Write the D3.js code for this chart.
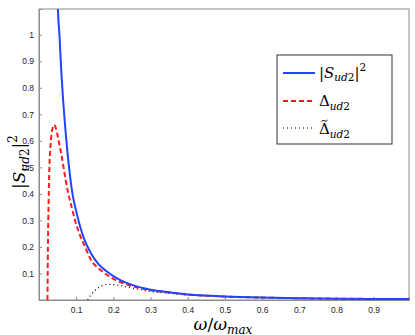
<!DOCTYPE html>
<html>
<head>
<meta charset="utf-8">
<script src="https://d3js.org/d3.v7.min.js"></script>
<style>
  body { margin: 0; background: #fff; }
  svg { display: block; }
  .serif { font-family: "DejaVu Serif", "Liberation Serif", serif; }
</style>
</head>
<body>
<div id="chart"></div>
<script>
// |S_ud2|^2 vs omega/omega_max

const sX = [0.048, 0.0508, 0.055, 0.06, 0.065, 0.07, 0.08, 0.09, 0.10, 0.11, 0.12, 0.14, 0.16, 0.18, 0.20, 0.22, 0.25, 0.30, 0.35, 0.40, 0.45, 0.50, 0.60, 0.70, 0.80, 0.90, 0.995];
const sY = [1.30, 1.10, 1.00, 0.86, 0.75, 0.66, 0.51, 0.40, 0.335, 0.28, 0.235, 0.175, 0.135, 0.11, 0.09, 0.074, 0.057, 0.039, 0.029, 0.021, 0.0165, 0.0133, 0.0092, 0.0067, 0.0051, 0.0041, 0.0034];

const dX = [0.0228, 0.024, 0.026, 0.028, 0.032, 0.036, 0.041, 0.046, 0.05, 0.055, 0.06, 0.066, 0.072, 0.079, 0.088, 0.097, 0.11, 0.124, 0.14, 0.16, 0.18, 0.20, 0.22, 0.25, 0.30, 0.35, 0.40, 0.50, 0.60, 0.70, 0.80, 0.90, 0.995];
const dY = [0, 0.20, 0.38, 0.50, 0.60, 0.645, 0.66, 0.645, 0.62, 0.585, 0.55, 0.50, 0.45, 0.40, 0.35, 0.30, 0.245, 0.20, 0.15, 0.12, 0.097, 0.08, 0.067, 0.053, 0.037, 0.028, 0.0205, 0.013, 0.009, 0.0066, 0.005, 0.004, 0.0033];

const tX = [0.131, 0.14, 0.15, 0.16, 0.17, 0.18, 0.19, 0.20, 0.22, 0.25, 0.28, 0.30, 0.35, 0.40, 0.50, 0.60, 0.70, 0.80, 0.90, 0.995];
const tY = [0, 0.02, 0.035, 0.046, 0.054, 0.058, 0.059, 0.058, 0.054, 0.045, 0.037, 0.032, 0.025, 0.019, 0.0125, 0.0088, 0.0064, 0.0049, 0.0039, 0.0032];

const xTicks = [0.1, 0.2, 0.3, 0.4, 0.5, 0.6, 0.7, 0.8, 0.9];
const yTicks = [0.1, 0.2, 0.3, 0.4, 0.5, 0.6, 0.7, 0.8, 0.9, 1];

const W = 415, H = 335;
const m = { left: 39, right: 6, top: 9, bottom: 35 };

const svg = d3.select('#chart').append('svg')
  .attr('width', W)
  .attr('height', H);

const x = d3.scaleLinear().domain([0, 0.995]).range([m.left, W - m.right]);
const y = d3.scaleLinear().domain([0, 1.097]).range([H - m.bottom, m.top]);

svg.append('defs').append('clipPath').attr('id', 'clip')
  .append('rect')
  .attr('x', m.left).attr('y', m.top)
  .attr('width', W - m.left - m.right)
  .attr('height', H - m.top - m.bottom);

// frame
svg.append('rect')
  .attr('x', m.left).attr('y', m.top)
  .attr('width', W - m.left - m.right)
  .attr('height', H - m.top - m.bottom)
  .attr('fill', '#fff')
  .attr('stroke', '#8c8c8c')
  .attr('stroke-width', 1);

// axes, ticks pointing inward
const xAxis = svg.append('g')
  .attr('transform', `translate(0,${H - m.bottom})`)
  .call(d3.axisBottom(x).tickValues(xTicks).tickSize(-3).tickPadding(7).tickFormat(d3.format('.1f')));
const yAxis = svg.append('g')
  .attr('transform', `translate(${m.left},0)`)
  .call(d3.axisLeft(y).tickValues(yTicks).tickSize(-3).tickPadding(5).tickFormat(d => d === 1 ? '1' : d3.format('.1f')(d)));

[xAxis, yAxis].forEach(a => {
  a.select('.domain').attr('stroke', '#8c8c8c');
  a.selectAll('.tick line').attr('stroke', '#8c8c8c');
  a.selectAll('.tick text')
    .attr('fill', '#262626')
    .attr('font-family', 'Liberation Sans, Arial, sans-serif')
    .attr('font-size', 8.5);
});

const line = d3.line()
  .x(d => x(d[0]))
  .y(d => y(d[1]))
  .curve(d3.curveMonotoneX);

const plot = svg.append('g').attr('clip-path', 'url(#clip)');

const series = [
  { xs: tX, ys: tY, color: '#000', width: 1.2, dash: '1,3' },
  { xs: dX, ys: dY, color: '#ff1a1a', width: 2, dash: '5,3' },
  { xs: sX, ys: sY, color: '#2244ff', width: 2, dash: null },
];

series.forEach(s => {
  plot.append('path')
    .datum(s.xs.map((v, i) => [v, s.ys[i]]))
    .attr('fill', 'none')
    .attr('stroke', s.color)
    .attr('stroke-width', s.width)
    .attr('stroke-dasharray', s.dash)
    .attr('d', line);
});

// legend
const lg = svg.append('g');
lg.append('rect')
  .attr('x', 277).attr('y', 55)
  .attr('width', 115).attr('height', 89)
  .attr('fill', '#fff')
  .attr('stroke', '#333')
  .attr('stroke-width', 1);

const legRows = [
  { yy: 73, s: series[2] },
  { yy: 101, s: series[1] },
  { yy: 128, s: series[0] },
];
legRows.forEach(r => {
  lg.append('line')
    .attr('x1', 283).attr('x2', 315)
    .attr('y1', r.yy).attr('y2', r.yy)
    .attr('stroke', r.s.color)
    .attr('stroke-width', r.s.width)
    .attr('stroke-dasharray', r.s.dash);
});

// |S_ud2|^2 as tspans
function sLabel(t, big, small) {
  t.append('tspan').text('|');
  t.append('tspan').attr('font-style', 'italic').text('S');
  t.append('tspan').attr('font-style', 'italic').attr('font-size', small).attr('dy', big * 0.22).text('ud');
  t.append('tspan').attr('font-size', small).text('2');
  t.append('tspan').attr('dy', -big * 0.22).text('|');
  t.append('tspan').attr('font-size', small).attr('dy', -big * 0.45).text('2');
}

const t1 = lg.append('text').attr('class', 'serif').attr('x', 319).attr('y', 78).attr('font-size', 15).attr('fill', '#000');
sLabel(t1, 15, 10.5);

const t2 = lg.append('text').attr('class', 'serif').attr('x', 319).attr('y', 106).attr('font-size', 15).attr('fill', '#000');
t2.append('tspan').text('Δ');
t2.append('tspan').attr('font-style', 'italic').attr('font-size', 10.5).attr('dy', 3.5).text('ud');
t2.append('tspan').attr('font-size', 10.5).text('2');

const t3 = lg.append('text').attr('class', 'serif').attr('x', 319).attr('y', 134).attr('font-size', 15).attr('fill', '#000');
t3.append('tspan').text('Δ');
t3.append('tspan').attr('font-style', 'italic').attr('font-size', 10.5).attr('dy', 3.5).text('ud');
t3.append('tspan').attr('font-size', 10.5).text('2');
// tilde over the Delta
lg.append('path')
  .attr('d', 'M321.5,121.5 q1.5,-2 3,-0.7 q1.5,1.3 3,-0.7')
  .attr('fill', 'none')
  .attr('stroke', '#000')
  .attr('stroke-width', 0.9);

// axis labels
const xl = svg.append('text')
  .attr('class', 'serif')
  .attr('x', 223).attr('y', 330)
  .attr('text-anchor', 'middle')
  .attr('font-size', 17).attr('fill', '#000');
xl.append('tspan').attr('font-style', 'italic').text('ω');
xl.append('tspan').text('/');
xl.append('tspan').attr('font-style', 'italic').text('ω');
xl.append('tspan').attr('font-style', 'italic').attr('font-size', 12).attr('dy', 3.5).text('max');

const yl = svg.append('text')
  .attr('class', 'serif')
  .attr('transform', 'translate(25,162) rotate(-90)')
  .attr('text-anchor', 'middle')
  .attr('font-size', 17).attr('fill', '#000');
sLabel(yl, 17, 12);
</script>
</body>
</html>
